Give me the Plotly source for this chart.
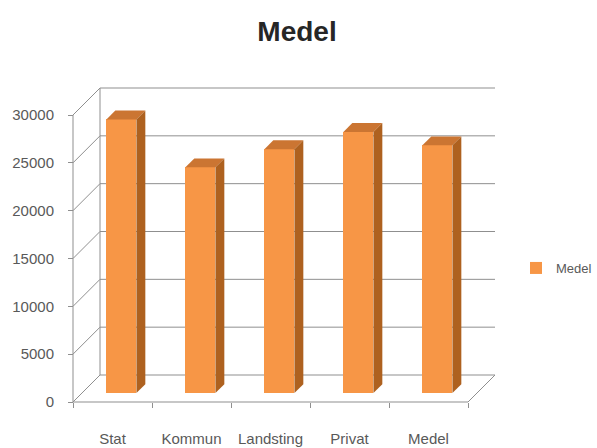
import plotly.graph_objects as go

# ---- data -------------------------------------------------------------
categories = ["Stat", "Kommun", "Landsting", "Privat", "Medel"]
values = [28600, 23600, 25500, 27300, 25900]
y_ticks = [0, 5000, 10000, 15000, 20000, 25000, 30000]
y_tick_text = [str(t) for t in y_ticks]
series_name = "Medel"
chart_title = "Medel"

# ---- geometry of the pseudo-3D box (pixels) -----------------------------
W, H = 597, 448
ORIGIN_PX = (73, 402)          # front-left-bottom corner of the box
CAT_PX = 79                    # width of one category slot on the front plane
VAL_PX = 287 / 30000           # pixels per value unit
DEPTH_PX = (27, 27)            # oblique depth offset (right, up)
PLOT_L, PLOT_R, PLOT_T, PLOT_B = 63, 500, 85, 410

BAR_W = 0.38                   # bar width in category units
Z_FRONT, Z_BACK = 0.33, 0.66   # bar depth position inside the box

# colours
FRONT = "#F79646"
TOP = "#CB7532"
SIDE = "#AE611F"
GRID = "#8f8f8f"
TEXT = "#595959"
FONT = "Liberation Sans, Arial, sans-serif"

# value-space equivalents of the pixel depth offset
dx = DEPTH_PX[0] / CAT_PX
dy = DEPTH_PX[1] / VAL_PX


def proj(x, v, z):
    """Oblique projection of (category x, value v, depth z in 0..1)."""
    return x + z * dx, v + z * dy


x_rng = [-0.5 + (PLOT_L - ORIGIN_PX[0]) / CAT_PX,
         -0.5 + (PLOT_R - ORIGIN_PX[0]) / CAT_PX]
y_rng = [(ORIGIN_PX[1] - PLOT_B) / VAL_PX,
         (ORIGIN_PX[1] - PLOT_T) / VAL_PX]

xl, xr = -0.5, len(categories) - 0.5
vmax = max(y_ticks)

shapes = []


def seg(a, b):
    shapes.append(dict(type="line", xref="x", yref="y", layer="below",
                       x0=a[0], y0=a[1], x1=b[0], y1=b[1],
                       line=dict(color=GRID, width=1)))


# back wall gridlines and left side-wall lines
for t in y_ticks:
    seg(proj(xl, t, 1), proj(xr, t, 1))
    seg(proj(xl, t, 0), proj(xl, t, 1))
# back wall left edge, front value axis
seg(proj(xl, 0, 1), proj(xl, vmax, 1))
seg(proj(xl, 0, 0), proj(xl, vmax, 0))
# floor front edge and right edge
seg(proj(xl, 0, 0), proj(xr, 0, 0))
seg(proj(xr, 0, 0), proj(xr, 0, 1))

fig = go.Figure()

# front faces of the bars
fx = [i + Z_FRONT * dx for i in range(len(categories))]
fig.add_trace(go.Bar(
    x=fx, y=values, base=[Z_FRONT * dy] * len(values), width=BAR_W,
    marker=dict(color=FRONT, line=dict(width=0)),
    name=series_name, showlegend=True, hoverinfo="skip",
))

# top and side faces of the bars
ddz = Z_BACK - Z_FRONT
for i, v in enumerate(values):
    cx, base = proj(i, 0, Z_FRONT)
    top = v + base
    x_a, x_b = cx - BAR_W / 2, cx + BAR_W / 2
    fig.add_trace(go.Scatter(
        x=[x_a, x_b, x_b + ddz * dx, x_a + ddz * dx, x_a],
        y=[top, top, top + ddz * dy, top + ddz * dy, top],
        fill="toself", fillcolor=TOP, mode="lines",
        line=dict(width=0, color=TOP), showlegend=False, hoverinfo="skip",
    ))
    fig.add_trace(go.Scatter(
        x=[x_b, x_b, x_b + ddz * dx, x_b + ddz * dx, x_b],
        y=[base, top, top + ddz * dy, base + ddz * dy, base],
        fill="toself", fillcolor=SIDE, mode="lines",
        line=dict(width=0, color=SIDE), showlegend=False, hoverinfo="skip",
    ))

plot_w = PLOT_R - PLOT_L
plot_h = PLOT_B - PLOT_T

fig.update_layout(
    width=W, height=H,
    margin=dict(l=PLOT_L, r=W - PLOT_R, t=PLOT_T, b=H - PLOT_B, pad=0,
                autoexpand=False),
    paper_bgcolor="white", plot_bgcolor="white",
    font=dict(family=FONT, color=TEXT, size=15),
    title=dict(text=f"<b>{chart_title}</b>", x=297 / W, xref="container",
               y=1 - 31 / H, yref="container", xanchor="center", yanchor="middle",
               font=dict(size=28, color="#262626", family=FONT)),
    showlegend=True,
    legend=dict(x=(516 - PLOT_L) / plot_w, y=(PLOT_B - 268) / plot_h,
                xanchor="left", yanchor="middle", bgcolor="rgba(0,0,0,0)",
                font=dict(size=13, color=TEXT), itemwidth=30),
    bargap=0,
    shapes=shapes,
    xaxis=dict(range=x_rng, anchor="free",
               position=(PLOT_B - ORIGIN_PX[1]) / plot_h,
               showgrid=False, zeroline=False, showline=False,
               tickvals=list(range(len(categories))), ticktext=categories,
               ticks="", ticklabelstandoff=26,
               minor=dict(tickvals=[k - 0.5 for k in range(len(categories) + 1)],
                          ticks="outside", ticklen=5, tickcolor=GRID,
                          showgrid=False),
               tickfont=dict(size=15, color=TEXT), fixedrange=True),
    yaxis=dict(range=y_rng, anchor="free",
               position=(ORIGIN_PX[0] - PLOT_L) / plot_w,
               showgrid=False, zeroline=False, showline=False,
               tickvals=y_ticks, ticktext=y_tick_text,
               ticks="outside", ticklen=5, tickcolor=GRID,
               ticklabelstandoff=11,
               tickfont=dict(size=15, color=TEXT), fixedrange=True),
)

fig.write_html("out.html")
